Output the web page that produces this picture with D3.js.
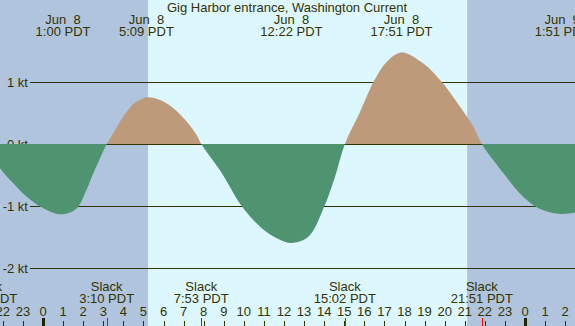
<!DOCTYPE html>
<html>
<head>
<meta charset="utf-8">
<script src="https://cdn.jsdelivr.net/npm/d3@7"></script>
<style>
  body { margin: 0; padding: 0; overflow: hidden; }
  text { font-family: "Liberation Sans", Arial, sans-serif; font-size: 13px; fill: #333300; white-space: pre; }
</style>
</head>
<body>
<div id="chart"></div>
<script>
// current readings (hours after Jun 8 00:00 PDT, knots)
var hours = [-2.83, -2.14, -1.48, -0.82, -0.15, 0.51, 1.0, 1.68, 2.09, 2.51, 2.84, 3.17,
             3.5, 3.83, 4.17, 4.5, 5.15, 5.83, 6.49, 7.16, 7.65, 7.88,
             8.86, 9.9, 10.89, 11.72, 12.37, 13.21, 14.01, 14.54, 15.03,
             15.79, 16.45, 17.12, 17.85, 18.94, 19.86, 20.6, 21.43, 21.85,
             22.92, 23.75, 24.5, 25.1, 25.85, 26.6];
var knots = [0, -0.39, -0.635, -0.85, -1.01, -1.11, -1.136, -1.04, -0.8, -0.47, -0.23, 0,
             0.173, 0.36, 0.52, 0.646, 0.752, 0.71, 0.577, 0.36, 0.145, 0,
             -0.45, -1.006, -1.36, -1.535, -1.6, -1.5, -1.006, -0.53, 0,
             0.52, 1.0, 1.33, 1.48, 1.3, 1.0, 0.68, 0.28, 0,
             -0.47, -0.8, -1.006, -1.09, -1.13, -1.1];

var maxTimes = [1.0, 5.15, 12.37, 17.85, 25.85];
var maxDates = ["Jun  8", "Jun  8", "Jun  8", "Jun  8", "Jun  9"];
var maxLabels = ["1:00 PDT", "5:09 PDT", "12:22 PDT", "17:51 PDT", "1:51 PDT"];

var slackTimes = [-2.83, 3.17, 7.88, 15.03, 21.85];
var slackLabels = ["21:10 PDT", "3:10 PDT", "7:53 PDT", "15:02 PDT", "21:51 PDT"];

var sunrise = 5.23, sunset = 21.12;
var kiTicks = [-2, -1, 0, 1];
var hourTicks = d3.range(-2, 27);

var width = 575, height = 326;

var x = d3.scaleLinear().domain([0, 24]).range([43, 525]);
var y = d3.scaleLinear().domain([0, 1]).range([144, 82.1]);

var svg = d3.select("#chart").append("svg")
    .attr("width", width)
    .attr("height", height);

// night / day background
svg.append("rect").attr("x", 0).attr("y", 0).attr("width", width).attr("height", height)
    .style("fill", "#b0c4de");
svg.append("rect")
    .attr("x", x(sunrise)).attr("y", 0)
    .attr("width", x(sunset) - x(sunrise)).attr("height", height)
    .style("fill", "#ddf7fe");

// horizontal grid lines
svg.selectAll(".grid").data(kiTicks).enter().append("line")
    .attr("x1", 30).attr("x2", width)
    .attr("y1", function(d) { return Math.round(y(d)) + 0.5; })
    .attr("y2", function(d) { return Math.round(y(d)) + 0.5; })
    .style("stroke", "#333300")
    .style("stroke-width", 1);

svg.selectAll(".klab").data(kiTicks).enter().append("text")
    .attr("x", 28)
    .attr("y", function(d) { return y(d) + 5; })
    .attr("text-anchor", "end")
    .text(function(d) { return d + " kt"; });

// current area, split by sign with clip paths
var data = hours.map(function(h, i) { return [h, knots[i]]; });
var area = d3.area()
    .x(function(d) { return x(d[0]); })
    .y0(y(0))
    .y1(function(d) { return y(d[1]); })
    .curve(d3.curveCatmullRom.alpha(0.5));

var defs = svg.append("defs");
defs.append("clipPath").attr("id", "above")
  .append("rect").attr("x", 0).attr("y", 0).attr("width", width).attr("height", y(0));
defs.append("clipPath").attr("id", "below")
  .append("rect").attr("x", 0).attr("y", y(0)).attr("width", width).attr("height", height - y(0));

svg.append("path").datum(data)
    .attr("d", area)
    .attr("clip-path", "url(#above)")
    .style("fill", "#bd9b7a");
svg.append("path").datum(data)
    .attr("d", area)
    .attr("clip-path", "url(#below)")
    .style("fill", "#4f9470");

// title
svg.append("text")
    .attr("x", 287).attr("y", 12)
    .attr("text-anchor", "middle")
    .text("Gig Harbor entrance, Washington Current");

// max current labels at top
svg.selectAll(".mdate").data(maxTimes).enter().append("text")
    .attr("x", function(d) { return x(d); })
    .attr("y", 24)
    .attr("text-anchor", "middle")
    .text(function(d, i) { return maxDates[i]; });
svg.selectAll(".mtime").data(maxTimes).enter().append("text")
    .attr("x", function(d) { return x(d); })
    .attr("y", 36)
    .attr("text-anchor", "middle")
    .text(function(d, i) { return maxLabels[i]; });

// slack labels at bottom
svg.selectAll(".slack").data(slackTimes).enter().append("text")
    .attr("x", function(d) { return x(d); })
    .attr("y", 291)
    .attr("text-anchor", "middle")
    .text("Slack");
svg.selectAll(".stime").data(slackTimes).enter().append("text")
    .attr("x", function(d) { return x(d); })
    .attr("y", 303)
    .attr("text-anchor", "middle")
    .text(function(d, i) { return slackLabels[i]; });

// hour axis
svg.selectAll(".hlab").data(hourTicks).enter().append("text")
    .attr("x", function(d) { return x(d); })
    .attr("y", 315.5)
    .attr("text-anchor", "middle")
    .text(function(d) { return ((d % 24) + 24) % 24; });

svg.selectAll(".htick").data(hourTicks).enter().append("line")
    .attr("x1", function(d) { return Math.round(x(d)) + 0.5; })
    .attr("x2", function(d) { return Math.round(x(d)) + 0.5; })
    .attr("y1", function(d) { return d % 24 === 0 ? 318 : 321; })
    .attr("y2", height)
    .style("stroke", function(d) { return d % 24 === 0 ? "#222200" : "#333300"; })
    .style("stroke-width", function(d) { return d % 24 === 0 ? 3 : 1; });

svg.selectAll(".stick").data(slackTimes).enter().append("line")
    .attr("x1", function(d) { return Math.round(x(d)) + 0.5; })
    .attr("x2", function(d) { return Math.round(x(d)) + 0.5; })
    .attr("y1", 318)
    .attr("y2", height)
    .style("stroke", "#ff0000")
    .style("stroke-width", 1);
</script>
</body>
</html>
